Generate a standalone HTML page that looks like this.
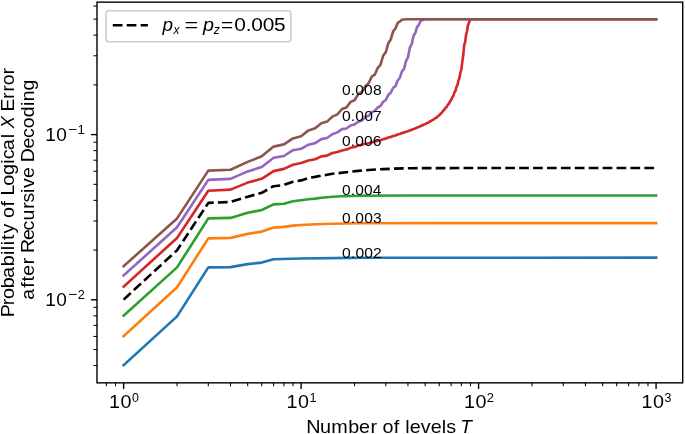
<!DOCTYPE html>
<html><head><meta charset="utf-8"><title>Logical error vs levels</title>
<style>html,body{margin:0;padding:0;background:#fff;overflow:hidden}svg{display:block;will-change:transform}text{font-family:"Liberation Sans",sans-serif;fill:#000}</style></head>
<body><svg width="685" height="434" viewBox="0 0 685 434">
<rect width="685" height="434" fill="#fff"/>
<defs><clipPath id="ax"><rect x="97.0" y="2.15" width="585.70" height="380.70"/></clipPath></defs>
<g clip-path="url(#ax)">
<path d="M123.62,365.20 177.05,316.40 208.30,267.40 230.48,267.10 247.68,264.10 261.73,262.60 273.61,259.30 301.11,258.50 350.58,257.83 361.88,257.75 656.08,257.65" fill="none" stroke="#1f77b4" stroke-width="2.625" stroke-linejoin="round" stroke-linecap="square"/>
<path d="M123.62,336.20 177.05,287.30 208.30,238.40 230.48,237.90 247.68,233.90 261.73,231.60 273.61,227.60 283.91,226.90 292.99,225.60 301.11,225.00 315.16,224.30 332.36,223.80 346.41,223.48 358.30,223.31 371.74,223.25 437.92,223.18 656.08,223.15" fill="none" stroke="#ff7f0e" stroke-width="2.625" stroke-linejoin="round" stroke-linecap="square"/>
<path d="M123.62,315.60 177.05,267.40 208.30,218.40 230.48,217.90 247.68,212.80 261.73,210.00 273.61,204.40 283.91,203.70 292.99,201.30 308.45,199.20 315.16,198.60 321.33,197.80 327.04,197.20 332.36,196.80 342.01,196.24 350.58,195.94 361.88,195.79 409.87,195.52 656.08,195.45" fill="none" stroke="#2ca02c" stroke-width="2.625" stroke-linejoin="round" stroke-linecap="square"/>
<path d="M123.62,286.60 177.05,238.00 208.30,190.70 230.48,189.60 247.68,182.60 261.73,178.80 273.61,171.10 283.91,168.90 292.99,164.80 301.11,163.00 308.45,160.50 315.16,159.20 321.33,156.40 327.04,155.60 332.36,153.00 337.34,152.05 342.01,150.42 346.41,149.58 350.58,147.74 354.54,147.02 358.30,145.45 361.88,144.87 365.31,143.68 368.59,143.22 371.74,142.14 374.76,141.69 377.67,140.65 380.47,140.20 383.18,139.09 385.79,138.60 388.32,137.46 390.76,136.99 393.14,135.93 395.44,135.49 397.67,134.48 399.84,134.04 401.95,133.06 404.01,132.64 406.01,131.68 407.96,131.28 409.87,130.31 411.72,129.89 413.54,128.91 415.31,128.49 417.04,127.49 418.74,127.06 420.39,126.05 422.02,125.62 423.61,124.61 425.16,124.17 426.69,123.14 428.19,122.68 429.66,121.58 431.10,121.09 432.51,119.90 433.90,119.38 435.26,118.09 436.60,117.51 437.92,116.07 439.22,115.42 440.49,113.68 441.75,112.86 442.98,110.86 444.19,109.98 445.39,107.93 446.56,107.03 447.72,104.84 448.87,103.85 449.99,101.38 451.10,100.26 452.19,97.43 453.27,96.12 454.33,92.73 455.38,91.14 456.42,87.13 457.44,85.24 458.45,80.39 459.44,78.04 460.42,72.15 461.39,69.64 462.35,61.40 463.30,54.83 464.23,44.72 465.15,42.36 466.07,34.62 466.97,31.49 467.86,25.29 468.74,23.58 469.61,20.75 470.47,19.90 471.32,19.42 473.00,19.30 656.08,19.30" fill="none" stroke="#d62728" stroke-width="2.625" stroke-linejoin="round" stroke-linecap="square"/>
<path d="M123.62,275.50 177.05,227.20 208.30,179.90 230.48,178.90 247.68,171.40 261.73,167.00 273.61,157.80 283.91,156.00 292.99,150.20 301.11,148.80 308.45,144.70 315.16,143.10 321.33,139.10 327.04,138.00 332.36,134.20 337.34,132.36 342.01,129.15 346.41,128.45 350.58,125.49 354.54,124.39 358.30,121.78 361.88,120.55 365.31,117.07 368.59,115.83 371.74,112.27 374.76,110.91 377.67,107.49 380.47,106.01 383.18,101.82 385.79,99.98 388.32,94.86 390.76,92.75 393.14,87.79 395.44,86.18 397.67,80.44 399.84,77.69 401.95,71.43 404.01,68.95 406.01,61.15 407.96,57.36 409.87,47.62 411.72,44.12 413.54,35.71 415.31,33.11 417.04,26.88 418.74,25.01 420.39,21.27 422.02,20.44 423.61,19.43 425.16,19.30 656.08,19.30" fill="none" stroke="#9467bd" stroke-width="2.625" stroke-linejoin="round" stroke-linecap="square"/>
<path d="M123.62,266.20 177.05,218.40 208.30,170.60 230.48,169.70 247.68,161.90 261.73,156.30 273.61,146.60 283.91,144.40 292.99,138.40 301.11,136.20 308.45,130.40 315.16,128.20 321.33,123.20 327.04,121.60 332.36,116.60 337.34,114.41 342.01,109.01 346.41,107.42 350.58,101.91 354.54,100.21 358.30,94.16 361.88,91.81 365.31,86.32 368.59,83.30 371.74,76.65 374.76,74.67 377.67,68.02 380.47,64.81 383.18,55.59 385.79,52.26 388.32,43.16 390.76,39.47 393.14,31.42 395.44,28.50 397.67,22.94 399.84,21.52 401.95,19.75 406.01,19.30 656.08,19.30" fill="none" stroke="#8c564b" stroke-width="2.625" stroke-linejoin="round" stroke-linecap="square"/>
<path d="M123.62,299.60 177.05,250.20 208.30,202.90 230.48,202.00 247.68,196.80 261.73,192.80 273.61,186.20 283.91,185.00 292.99,181.80 301.11,180.40 308.45,178.00 315.16,176.90 321.33,175.60 327.04,174.80 332.36,173.80 350.58,171.66 358.30,170.88 368.59,170.00 383.18,169.11 393.14,168.70 404.01,168.36 411.72,168.23 426.69,168.11 466.07,168.05 656.08,168.05" fill="none" stroke="#000000" stroke-width="2.625" stroke-dasharray="9.71 4.2" stroke-linejoin="round" stroke-linecap="butt"/>
</g>
<g>
<text transform="translate(342.04,95.10) scale(1.0081,1)" x="0.00 8.71 13.11 21.85 30.61" font-size="15.50">0.008</text>
<text transform="translate(342.05,120.90) scale(1.0112,1)" x="0.00 8.73 13.15 21.92 30.68" font-size="15.50">0.007</text>
<text transform="translate(342.04,146.10) scale(1.0081,1)" x="0.00 8.70 13.09 21.81 30.55" font-size="15.50">0.006</text>
<text transform="translate(342.05,195.30) scale(1.0019,1)" x="0.00 8.72 13.13 21.89 30.67" font-size="15.50">0.004</text>
<text transform="translate(342.06,222.90) scale(1.0081,1)" x="0.00 8.74 13.17 21.95 30.76" font-size="15.50">0.003</text>
<text transform="translate(342.07,257.50) scale(1.0112,1)" x="0.00 8.77 13.23 22.05 30.69" font-size="15.50">0.002</text>
</g>
<rect x="97.0" y="2.15" width="585.70" height="380.70" fill="none" stroke="#000" stroke-width="1.4" stroke-linejoin="miter"/>
<g stroke="#000">
<line x1="123.62" y1="382.85" x2="123.62" y2="388.95" stroke-width="1.4"/>
<line x1="301.11" y1="382.85" x2="301.11" y2="388.95" stroke-width="1.4"/>
<line x1="478.59" y1="382.85" x2="478.59" y2="388.95" stroke-width="1.4"/>
<line x1="656.08" y1="382.85" x2="656.08" y2="388.95" stroke-width="1.4"/>
<line x1="106.42" y1="382.85" x2="106.42" y2="386.35" stroke-width="1.05"/>
<line x1="115.50" y1="382.85" x2="115.50" y2="386.35" stroke-width="1.05"/>
<line x1="177.05" y1="382.85" x2="177.05" y2="386.35" stroke-width="1.05"/>
<line x1="208.30" y1="382.85" x2="208.30" y2="386.35" stroke-width="1.05"/>
<line x1="230.48" y1="382.85" x2="230.48" y2="386.35" stroke-width="1.05"/>
<line x1="247.68" y1="382.85" x2="247.68" y2="386.35" stroke-width="1.05"/>
<line x1="261.73" y1="382.85" x2="261.73" y2="386.35" stroke-width="1.05"/>
<line x1="273.61" y1="382.85" x2="273.61" y2="386.35" stroke-width="1.05"/>
<line x1="283.91" y1="382.85" x2="283.91" y2="386.35" stroke-width="1.05"/>
<line x1="292.99" y1="382.85" x2="292.99" y2="386.35" stroke-width="1.05"/>
<line x1="354.54" y1="382.85" x2="354.54" y2="386.35" stroke-width="1.05"/>
<line x1="385.79" y1="382.85" x2="385.79" y2="386.35" stroke-width="1.05"/>
<line x1="407.96" y1="382.85" x2="407.96" y2="386.35" stroke-width="1.05"/>
<line x1="425.16" y1="382.85" x2="425.16" y2="386.35" stroke-width="1.05"/>
<line x1="439.22" y1="382.85" x2="439.22" y2="386.35" stroke-width="1.05"/>
<line x1="451.10" y1="382.85" x2="451.10" y2="386.35" stroke-width="1.05"/>
<line x1="461.39" y1="382.85" x2="461.39" y2="386.35" stroke-width="1.05"/>
<line x1="470.47" y1="382.85" x2="470.47" y2="386.35" stroke-width="1.05"/>
<line x1="532.02" y1="382.85" x2="532.02" y2="386.35" stroke-width="1.05"/>
<line x1="563.27" y1="382.85" x2="563.27" y2="386.35" stroke-width="1.05"/>
<line x1="585.45" y1="382.85" x2="585.45" y2="386.35" stroke-width="1.05"/>
<line x1="602.65" y1="382.85" x2="602.65" y2="386.35" stroke-width="1.05"/>
<line x1="616.70" y1="382.85" x2="616.70" y2="386.35" stroke-width="1.05"/>
<line x1="628.58" y1="382.85" x2="628.58" y2="386.35" stroke-width="1.05"/>
<line x1="638.88" y1="382.85" x2="638.88" y2="386.35" stroke-width="1.05"/>
<line x1="647.96" y1="382.85" x2="647.96" y2="386.35" stroke-width="1.05"/>
<line x1="97.00" y1="299.80" x2="90.90" y2="299.80" stroke-width="1.4"/>
<line x1="97.00" y1="134.60" x2="90.90" y2="134.60" stroke-width="1.4"/>
<line x1="97.00" y1="365.54" x2="93.50" y2="365.54" stroke-width="1.05"/>
<line x1="97.00" y1="349.53" x2="93.50" y2="349.53" stroke-width="1.05"/>
<line x1="97.00" y1="336.45" x2="93.50" y2="336.45" stroke-width="1.05"/>
<line x1="97.00" y1="325.39" x2="93.50" y2="325.39" stroke-width="1.05"/>
<line x1="97.00" y1="315.81" x2="93.50" y2="315.81" stroke-width="1.05"/>
<line x1="97.00" y1="307.36" x2="93.50" y2="307.36" stroke-width="1.05"/>
<line x1="97.00" y1="250.07" x2="93.50" y2="250.07" stroke-width="1.05"/>
<line x1="97.00" y1="220.98" x2="93.50" y2="220.98" stroke-width="1.05"/>
<line x1="97.00" y1="200.34" x2="93.50" y2="200.34" stroke-width="1.05"/>
<line x1="97.00" y1="184.33" x2="93.50" y2="184.33" stroke-width="1.05"/>
<line x1="97.00" y1="171.25" x2="93.50" y2="171.25" stroke-width="1.05"/>
<line x1="97.00" y1="160.19" x2="93.50" y2="160.19" stroke-width="1.05"/>
<line x1="97.00" y1="150.61" x2="93.50" y2="150.61" stroke-width="1.05"/>
<line x1="97.00" y1="142.16" x2="93.50" y2="142.16" stroke-width="1.05"/>
<line x1="97.00" y1="84.87" x2="93.50" y2="84.87" stroke-width="1.05"/>
<line x1="97.00" y1="55.78" x2="93.50" y2="55.78" stroke-width="1.05"/>
<line x1="97.00" y1="35.14" x2="93.50" y2="35.14" stroke-width="1.05"/>
<line x1="97.00" y1="19.13" x2="93.50" y2="19.13" stroke-width="1.05"/>
<line x1="97.00" y1="6.05" x2="93.50" y2="6.05" stroke-width="1.05"/>
</g>
<g>
<text transform="translate(109.07,408.40) scale(1.0553,1)" x="0.00 10.90" font-size="18.74">10</text>
<text transform="translate(131.93,401.50) scale(0.9019,1)" font-size="13.70">0</text>
<text transform="translate(286.56,408.40) scale(1.0553,1)" x="0.00 10.90" font-size="18.74">10</text>
<text transform="translate(309.45,401.50) scale(0.9282,1)" font-size="13.70">1</text>
<text transform="translate(464.04,408.40) scale(1.0553,1)" x="0.00 10.90" font-size="18.74">10</text>
<text transform="translate(486.74,401.50) scale(0.9465,1)" font-size="13.70">2</text>
<text transform="translate(641.53,408.40) scale(1.0553,1)" x="0.00 10.90" font-size="18.74">10</text>
<text transform="translate(664.41,401.50) scale(0.9066,1)" font-size="13.70">3</text>
<text transform="translate(45.22,141.40) scale(1.0178,1)" x="0.00 10.90" font-size="18.74">10</text>
<text transform="translate(68.12,134.40) scale(1.1438,1)" font-size="13.70">−</text>
<text transform="translate(77.61,134.40) scale(0.9620,1)" font-size="13.70">1</text>
<text transform="translate(45.22,306.10) scale(1.0178,1)" x="0.00 10.90" font-size="18.74">10</text>
<text transform="translate(68.12,299.10) scale(1.1438,1)" font-size="13.70">−</text>
<text transform="translate(77.86,299.10) scale(0.9305,1)" font-size="13.70">2</text>
<text transform="translate(306.27,432.60) scale(1.0768,1)" x="0.00 12.69 23.25 38.88 48.97 59.56 62.34 70.70 81.25 84.04 91.87 96.05 106.33 115.62 125.91 129.94" font-size="18.38">Number of levels</text>
<text transform="translate(460.14,432.60) scale(1.0361,1)" x="0.00" font-size="18.38" font-style="italic">T</text>
<text transform="translate(14.40,317.33) rotate(-90) scale(1.0746,1)" x="0.00 11.36 17.13 27.04 36.55 47.44 57.92 62.46 67.01 71.92 77.97 80.76 92.48 103.10 105.89 113.31 122.55 132.37 143.01 147.01 155.57 166.56" font-size="18.38">Probability of Logical</text>
<text transform="translate(14.40,128.57) rotate(-90) scale(0.9965,1)" x="0.00" font-size="18.38" font-style="italic">X</text>
<text transform="translate(14.40,111.52) rotate(-90) scale(1.0531,1)" x="0.00 12.13 18.99 24.91 35.40" font-size="18.38">Error</text>
<text transform="translate(34.30,299.70) rotate(-90) scale(1.0617,1)" x="0.00 11.28 17.18 22.67 33.37 36.20 44.08 56.16 65.28 74.64 85.56 91.55 100.55 105.13 114.55 117.38 129.58 142.52 152.38 161.59 171.74 182.41 186.85 197.14" font-size="18.38">after Recursive Decoding</text>
</g>
<g>
<rect x="106.0" y="10.8" width="184.9" height="30.9" rx="2.6" ry="2.6" fill="#fff" fill-opacity="0.8" stroke="#cdcdcd" stroke-width="1.6"/>
<line x1="112.8" y1="25.2" x2="147.9" y2="25.2" stroke="#000" stroke-width="2.625" stroke-dasharray="9.71 4.2"/>
<text transform="translate(162.47,31.20) scale(1.0390,1)" font-size="18.20" font-style="italic">p</text>
<text transform="translate(173.58,33.90) scale(0.9423,1)" font-size="12.72" font-style="italic">x</text>
<text transform="translate(184.42,31.20) scale(1.3432,1)" font-size="17.50">=</text>
<text transform="translate(202.90,31.20) scale(1.0889,1)" font-size="18.20" font-style="italic">p</text>
<text transform="translate(213.66,33.90) scale(0.9630,1)" font-size="12.72" font-style="italic">z</text>
<text transform="translate(220.98,31.30) scale(1.1140,1)" x="0.00 12.03 22.27 27.29 37.46 47.59" font-size="18.74">=0.005</text>
</g>
</svg></body></html>
